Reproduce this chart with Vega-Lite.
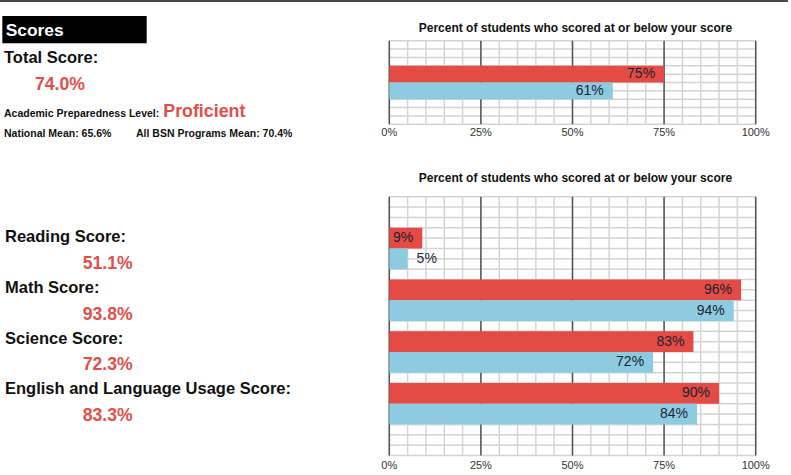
{
  "$schema": "https://vega.github.io/schema/vega-lite/v6.json",
  "width": 791,
  "height": 475,
  "padding": 0,
  "autosize": "none",
  "background": "white",
  "config": {"view": {"stroke": null}, "font": "Liberation Sans"},
  "datasets": {
    "total_bars": [
      {"section": "Total", "group": "National", "pct": 0.75},
      {"section": "Total", "group": "BSN", "pct": 0.61}
    ],
    "subject_bars": [
      {"section": "Reading", "group": "National", "pct": 0.09},
      {"section": "Reading", "group": "BSN", "pct": 0.05},
      {"section": "Math", "group": "National", "pct": 0.96},
      {"section": "Math", "group": "BSN", "pct": 0.94},
      {"section": "Science", "group": "National", "pct": 0.83},
      {"section": "Science", "group": "BSN", "pct": 0.72},
      {"section": "English", "group": "National", "pct": 0.90},
      {"section": "English", "group": "BSN", "pct": 0.84}
    ],
    "subjects": [
      {"cat": "Reading", "label": "Reading Score:", "score": 0.511},
      {"cat": "Math", "label": "Math Score:", "score": 0.938},
      {"cat": "Science", "label": "Science Score:", "score": 0.723},
      {"cat": "English", "label": "English and Language Usage Score:", "score": 0.833}
    ],
    "summary": [
      {"id": "topline", "line": "Top"},
      {"id": "header", "line": "Header", "text": "Scores"},
      {"id": "total_label", "line": "Total", "text": "Total Score:"},
      {"id": "total_value", "line": "Value", "value": 0.740},
      {"id": "level_label", "line": "Level", "text": "Academic Preparedness Level:"},
      {"id": "level_value", "line": "Level", "text": "Proficient"},
      {"id": "national", "line": "Level", "text": "National Mean: 65.6%"},
      {"id": "bsn", "line": "Level", "text": "All BSN Programs Mean: 70.4%"}
    ],
    "titles": [
      {"chart": "top", "title": "Percent of students who scored at or below your score"},
      {"chart": "bottom", "title": "Percent of students who scored at or below your score"}
    ],
    "pct_ticks": [
      {"v": 0}, {"v": 0.05}, {"v": 0.1}, {"v": 0.15}, {"v": 0.2}, {"v": 0.25}, {"v": 0.3}, {"v": 0.35}, {"v": 0.4}, {"v": 0.45},
      {"v": 0.5}, {"v": 0.55}, {"v": 0.6}, {"v": 0.65}, {"v": 0.7}, {"v": 0.75}, {"v": 0.8}, {"v": 0.85}, {"v": 0.9}, {"v": 0.95}, {"v": 1}
    ],
    "grid_rows": [
      {"k": 0}, {"k": 1}, {"k": 2}, {"k": 3}, {"k": 4}, {"k": 5}, {"k": 6}, {"k": 7}, {"k": 8}, {"k": 9}, {"k": 10}, {"k": 11}, {"k": 12},
      {"k": 13}, {"k": 14}, {"k": 15}, {"k": 16}, {"k": 17}, {"k": 18}, {"k": 19}, {"k": 20}, {"k": 21}, {"k": 22}, {"k": 23}, {"k": 24}, {"k": 25}
    ]
  },
  "layer": [
    {
      "data": {"name": "pct_ticks"},
      "mark": {"type": "rule", "color": "#d4d4d4", "strokeWidth": 1.5},
      "encoding": {
        "x": {"field": "v", "type": "quantitative", "scale": {"domain": [0, 1], "range": [389.3, 755.7], "nice": false, "zero": false}, "axis": null},
        "y": {"datum": 0, "type": "quantitative", "scale": {"domain": [0, 10], "range": [124.3, 40.7], "nice": false, "zero": false}, "axis": null},
        "y2": {"datum": 10}
      }
    },
    {
      "data": {"name": "grid_rows"},
      "transform": [{"filter": "datum.k <= 10"}],
      "mark": {"type": "rule", "color": "#d4d4d4", "strokeWidth": 1.5},
      "encoding": {
        "x": {"datum": 0, "type": "quantitative", "scale": {"domain": [0, 1], "range": [389.3, 755.7], "nice": false, "zero": false}, "axis": null},
        "x2": {"datum": 1},
        "y": {"field": "k", "type": "quantitative", "scale": {"domain": [0, 10], "range": [124.3, 40.7], "nice": false, "zero": false}, "axis": null}
      }
    },
    {
      "data": {"name": "pct_ticks"},
      "transform": [{"filter": "datum.v * 4 == round(datum.v * 4)"}],
      "mark": {"type": "rule", "color": "#555555", "strokeWidth": 1.5},
      "encoding": {
        "x": {"field": "v", "type": "quantitative", "scale": {"domain": [0, 1], "range": [389.3, 755.7], "nice": false, "zero": false}, "axis": null},
        "y": {"datum": 0, "type": "quantitative", "scale": {"domain": [0, 10], "range": [124.3, 40.7], "nice": false, "zero": false}, "axis": null},
        "y2": {"datum": 10}
      }
    },
    {
      "data": {"name": "pct_ticks"},
      "mark": {"type": "rule", "color": "#d4d4d4", "strokeWidth": 1.5},
      "encoding": {
        "x": {"field": "v", "type": "quantitative", "scale": {"domain": [0, 1], "range": [389.3, 755.7], "nice": false, "zero": false}, "axis": null},
        "y": {"datum": 0, "type": "quantitative", "scale": {"domain": [0, 25], "range": [455.5, 196.7], "nice": false, "zero": false}, "axis": null},
        "y2": {"datum": 25}
      }
    },
    {
      "data": {"name": "grid_rows"},
      "mark": {"type": "rule", "color": "#d4d4d4", "strokeWidth": 1.5},
      "encoding": {
        "x": {"datum": 0, "type": "quantitative", "scale": {"domain": [0, 1], "range": [389.3, 755.7], "nice": false, "zero": false}, "axis": null},
        "x2": {"datum": 1},
        "y": {"field": "k", "type": "quantitative", "scale": {"domain": [0, 25], "range": [455.5, 196.7], "nice": false, "zero": false}, "axis": null}
      }
    },
    {
      "data": {"name": "pct_ticks"},
      "transform": [{"filter": "datum.v * 4 == round(datum.v * 4)"}],
      "mark": {"type": "rule", "color": "#555555", "strokeWidth": 1.5},
      "encoding": {
        "x": {"field": "v", "type": "quantitative", "scale": {"domain": [0, 1], "range": [389.3, 755.7], "nice": false, "zero": false}, "axis": null},
        "y": {"datum": 0, "type": "quantitative", "scale": {"domain": [0, 25], "range": [455.5, 196.7], "nice": false, "zero": false}, "axis": null},
        "y2": {"datum": 25}
      }
    },
    {
      "data": {"name": "total_bars"},
      "mark": {"type": "bar"},
      "encoding": {
        "x": {"field": "pct", "type": "quantitative", "scale": {"domain": [0, 1], "range": [389.3, 755.7], "nice": false}, "axis": null},
        "y": {"field": "section", "type": "nominal", "scale": {"domain": ["Total"], "range": [40.7, 124.3], "paddingInner": 0, "paddingOuter": 0.75}, "axis": null},
        "yOffset": {"field": "group", "type": "nominal", "scale": {"domain": ["National", "BSN"], "paddingInner": 0, "paddingOuter": 0}},
        "color": {"field": "group", "type": "nominal", "scale": {"domain": ["National", "BSN"], "range": ["#e34b44", "#8dcbe0"]}, "legend": null}
      }
    },
    {
      "data": {"name": "total_bars"},
      "transform": [{"filter": "datum.group === 'National'"}],
      "mark": {"type": "text", "align": "right", "baseline": "middle", "dx": -9, "fontSize": 14, "color": "#1c2333"},
      "encoding": {
        "x": {"field": "pct", "type": "quantitative", "scale": {"domain": [0, 1], "range": [389.3, 755.7], "nice": false}, "axis": null},
        "y": {"field": "section", "type": "nominal", "bandPosition": 0.25, "scale": {"type": "band", "domain": ["Total"], "range": [40.7, 124.3], "paddingInner": 0, "paddingOuter": 0.75}, "axis": null},
        "text": {"field": "pct", "type": "quantitative", "format": ".0%"}
      }
    },
    {
      "data": {"name": "total_bars"},
      "transform": [{"filter": "datum.group === 'BSN'"}],
      "mark": {"type": "text", "align": "right", "baseline": "middle", "dx": -9, "fontSize": 14, "color": "#1c2333"},
      "encoding": {
        "x": {"field": "pct", "type": "quantitative", "scale": {"domain": [0, 1], "range": [389.3, 755.7], "nice": false}, "axis": null},
        "y": {"field": "section", "type": "nominal", "bandPosition": 0.75, "scale": {"type": "band", "domain": ["Total"], "range": [40.7, 124.3], "paddingInner": 0, "paddingOuter": 0.75}, "axis": null},
        "text": {"field": "pct", "type": "quantitative", "format": ".0%"}
      }
    },
    {
      "data": {"name": "subject_bars"},
      "mark": {"type": "bar"},
      "encoding": {
        "x": {"field": "pct", "type": "quantitative", "scale": {"domain": [0, 1], "range": [389.3, 755.7], "nice": false}, "axis": null},
        "y": {"field": "section", "type": "nominal", "scale": {"domain": ["Reading", "Math", "Science", "English"], "range": [196.7, 455.5], "paddingInner": 0.2, "paddingOuter": 0.6}, "axis": null},
        "yOffset": {"field": "group", "type": "nominal", "scale": {"domain": ["National", "BSN"], "paddingInner": 0, "paddingOuter": 0}},
        "color": {"field": "group", "type": "nominal", "scale": {"domain": ["National", "BSN"], "range": ["#e34b44", "#8dcbe0"]}, "legend": null}
      }
    },
    {
      "data": {"name": "subject_bars"},
      "transform": [{"filter": "datum.group === 'National' && datum.pct >= 0.08"}],
      "mark": {"type": "text", "align": "right", "baseline": "middle", "dx": -9, "fontSize": 14, "color": "#1c2333"},
      "encoding": {
        "x": {"field": "pct", "type": "quantitative", "scale": {"domain": [0, 1], "range": [389.3, 755.7], "nice": false}, "axis": null},
        "y": {"field": "section", "type": "nominal", "bandPosition": 0.25, "scale": {"type": "band", "domain": ["Reading", "Math", "Science", "English"], "range": [196.7, 455.5], "paddingInner": 0.2, "paddingOuter": 0.6}, "axis": null},
        "text": {"field": "pct", "type": "quantitative", "format": ".0%"}
      }
    },
    {
      "data": {"name": "subject_bars"},
      "transform": [{"filter": "datum.group === 'BSN' && datum.pct >= 0.08"}],
      "mark": {"type": "text", "align": "right", "baseline": "middle", "dx": -9, "fontSize": 14, "color": "#1c2333"},
      "encoding": {
        "x": {"field": "pct", "type": "quantitative", "scale": {"domain": [0, 1], "range": [389.3, 755.7], "nice": false}, "axis": null},
        "y": {"field": "section", "type": "nominal", "bandPosition": 0.75, "scale": {"type": "band", "domain": ["Reading", "Math", "Science", "English"], "range": [196.7, 455.5], "paddingInner": 0.2, "paddingOuter": 0.6}, "axis": null},
        "text": {"field": "pct", "type": "quantitative", "format": ".0%"}
      }
    },
    {
      "data": {"name": "subject_bars"},
      "transform": [{"filter": "datum.group === 'BSN' && datum.pct < 0.08"}],
      "mark": {"type": "text", "align": "left", "baseline": "middle", "dx": 9, "fontSize": 14, "color": "#1c2333"},
      "encoding": {
        "x": {"field": "pct", "type": "quantitative", "scale": {"domain": [0, 1], "range": [389.3, 755.7], "nice": false}, "axis": null},
        "y": {"field": "section", "type": "nominal", "bandPosition": 0.75, "scale": {"type": "band", "domain": ["Reading", "Math", "Science", "English"], "range": [196.7, 455.5], "paddingInner": 0.2, "paddingOuter": 0.6}, "axis": null},
        "text": {"field": "pct", "type": "quantitative", "format": ".0%"}
      }
    },
    {
      "data": {"name": "pct_ticks"},
      "transform": [{"filter": "datum.v * 4 == round(datum.v * 4)"}],
      "mark": {"type": "text", "align": "center", "baseline": "top", "dy": 3, "fontSize": 11, "color": "#333333"},
      "encoding": {
        "x": {"field": "v", "type": "quantitative", "scale": {"domain": [0, 1], "range": [389.3, 755.7], "nice": false, "zero": false}, "axis": null},
        "y": {"datum": 0, "type": "quantitative", "scale": {"domain": [0, 10], "range": [124.3, 40.7], "nice": false, "zero": false}, "axis": null},
        "text": {"field": "v", "type": "quantitative", "format": ".0%"}
      }
    },
    {
      "data": {"name": "pct_ticks"},
      "transform": [{"filter": "datum.v * 4 == round(datum.v * 4)"}],
      "mark": {"type": "text", "align": "center", "baseline": "top", "dy": 4.5, "fontSize": 11, "color": "#333333"},
      "encoding": {
        "x": {"field": "v", "type": "quantitative", "scale": {"domain": [0, 1], "range": [389.3, 755.7], "nice": false, "zero": false}, "axis": null},
        "y": {"datum": 0, "type": "quantitative", "scale": {"domain": [0, 25], "range": [455.5, 196.7], "nice": false, "zero": false}, "axis": null},
        "text": {"field": "v", "type": "quantitative", "format": ".0%"}
      }
    },
    {
      "data": {"name": "titles"},
      "transform": [{"filter": "datum.chart === 'top'"}],
      "mark": {"type": "text", "align": "center", "baseline": "alphabetic", "dy": -8.4, "fontSize": 12, "fontWeight": "bold", "color": "#111111"},
      "encoding": {
        "x": {"datum": 0.508, "type": "quantitative", "scale": {"domain": [0, 1], "range": [389.3, 755.7], "nice": false, "zero": false}, "axis": null},
        "y": {"datum": 10, "type": "quantitative", "scale": {"domain": [0, 10], "range": [124.3, 40.7], "nice": false, "zero": false}, "axis": null},
        "text": {"field": "title"}
      }
    },
    {
      "data": {"name": "titles"},
      "transform": [{"filter": "datum.chart === 'bottom'"}],
      "mark": {"type": "text", "align": "center", "baseline": "alphabetic", "dy": -14.4, "fontSize": 12, "fontWeight": "bold", "color": "#111111"},
      "encoding": {
        "x": {"datum": 0.508, "type": "quantitative", "scale": {"domain": [0, 1], "range": [389.3, 755.7], "nice": false, "zero": false}, "axis": null},
        "y": {"datum": 25, "type": "quantitative", "scale": {"domain": [0, 25], "range": [455.5, 196.7], "nice": false, "zero": false}, "axis": null},
        "text": {"field": "title"}
      }
    },
    {
      "data": {"name": "summary"},
      "transform": [{"filter": "datum.id === 'topline'"}],
      "mark": {"type": "rect", "color": "#4a4a4a"},
      "encoding": {
        "x": {"datum": 0, "type": "quantitative", "scale": {"domain": [0, 100], "range": [0, 389.3], "nice": false, "zero": false}, "axis": null},
        "x2": {"datum": 202.4},
        "y": {"field": "line", "type": "nominal", "scale": {"type": "band", "domain": ["Top"], "range": [0, 2], "paddingInner": 0, "paddingOuter": 0}, "axis": null}
      }
    },
    {
      "data": {"name": "summary"},
      "transform": [{"filter": "datum.id === 'header'"}],
      "mark": {"type": "rect", "color": "#000000"},
      "encoding": {
        "x": {"datum": 0.6, "type": "quantitative", "scale": {"domain": [0, 100], "range": [0, 389.3], "nice": false, "zero": false}, "axis": null},
        "x2": {"datum": 37.68},
        "y": {"field": "line", "type": "nominal", "scale": {"type": "band", "domain": ["Header"], "range": [16, 43.3], "paddingInner": 0, "paddingOuter": 0}, "axis": null}
      }
    },
    {
      "data": {"name": "summary"},
      "transform": [{"filter": "datum.id === 'header'"}],
      "mark": {"type": "text", "align": "left", "baseline": "alphabetic", "fontSize": 17.4, "fontWeight": "bold", "color": "#ffffff"},
      "encoding": {
        "x": {"datum": 1.46, "type": "quantitative", "scale": {"domain": [0, 100], "range": [0, 389.3], "nice": false, "zero": false}, "axis": null},
        "y": {"field": "line", "type": "nominal", "scale": {"type": "point", "domain": ["Header", "Total", "Value", "Level"], "range": [36, 117.3], "padding": 0}, "axis": null},
        "text": {"field": "text"}
      }
    },
    {
      "data": {"name": "summary"},
      "transform": [{"filter": "datum.id === 'total_label'"}],
      "mark": {"type": "text", "align": "left", "baseline": "alphabetic", "fontSize": 16.5, "fontWeight": "bold", "color": "#111111"},
      "encoding": {
        "x": {"datum": 1.03, "type": "quantitative", "scale": {"domain": [0, 100], "range": [0, 389.3], "nice": false, "zero": false}, "axis": null},
        "y": {"field": "line", "type": "nominal", "scale": {"type": "point", "domain": ["Header", "Total", "Value", "Level"], "range": [36, 117.3], "padding": 0}, "axis": null},
        "text": {"field": "text"}
      }
    },
    {
      "data": {"name": "summary"},
      "transform": [{"filter": "datum.id === 'total_value'"}],
      "mark": {"type": "text", "align": "left", "baseline": "alphabetic", "fontSize": 17.6, "fontWeight": "bold", "color": "#e0504a"},
      "encoding": {
        "x": {"datum": 8.99, "type": "quantitative", "scale": {"domain": [0, 100], "range": [0, 389.3], "nice": false, "zero": false}, "axis": null},
        "y": {"field": "line", "type": "nominal", "scale": {"type": "point", "domain": ["Header", "Total", "Value", "Level"], "range": [36, 117.3], "padding": 0}, "axis": null},
        "text": {"field": "value", "type": "quantitative", "format": ".1%"}
      }
    },
    {
      "data": {"name": "summary"},
      "transform": [{"filter": "datum.id === 'level_label'"}],
      "mark": {"type": "text", "align": "left", "baseline": "alphabetic", "fontSize": 10.5, "fontWeight": "bold", "color": "#111111"},
      "encoding": {
        "x": {"datum": 1.03, "type": "quantitative", "scale": {"domain": [0, 100], "range": [0, 389.3], "nice": false, "zero": false}, "axis": null},
        "y": {"field": "line", "type": "nominal", "scale": {"type": "point", "domain": ["Header", "Total", "Value", "Level"], "range": [36, 117.3], "padding": 0}, "axis": null},
        "text": {"field": "text"}
      }
    },
    {
      "data": {"name": "summary"},
      "transform": [{"filter": "datum.id === 'level_value'"}],
      "mark": {"type": "text", "align": "left", "baseline": "alphabetic", "fontSize": 17.8, "fontWeight": "bold", "color": "#e0504a"},
      "encoding": {
        "x": {"datum": 41.95, "type": "quantitative", "scale": {"domain": [0, 100], "range": [0, 389.3], "nice": false, "zero": false}, "axis": null},
        "y": {"field": "line", "type": "nominal", "scale": {"type": "point", "domain": ["Header", "Total", "Value", "Level"], "range": [36, 117.3], "padding": 0}, "axis": null},
        "text": {"field": "text"}
      }
    },
    {
      "data": {"name": "summary"},
      "transform": [{"filter": "datum.id === 'national'"}],
      "mark": {"type": "text", "align": "left", "baseline": "alphabetic", "fontSize": 10.5, "fontWeight": "bold", "color": "#111111", "dy": 19.4},
      "encoding": {
        "x": {"datum": 1.03, "type": "quantitative", "scale": {"domain": [0, 100], "range": [0, 389.3], "nice": false, "zero": false}, "axis": null},
        "y": {"field": "line", "type": "nominal", "scale": {"type": "point", "domain": ["Header", "Total", "Value", "Level"], "range": [36, 117.3], "padding": 0}, "axis": null},
        "text": {"field": "text"}
      }
    },
    {
      "data": {"name": "summary"},
      "transform": [{"filter": "datum.id === 'bsn'"}],
      "mark": {"type": "text", "align": "left", "baseline": "alphabetic", "fontSize": 10.5, "fontWeight": "bold", "color": "#111111", "dy": 19.4},
      "encoding": {
        "x": {"datum": 34.93, "type": "quantitative", "scale": {"domain": [0, 100], "range": [0, 389.3], "nice": false, "zero": false}, "axis": null},
        "y": {"field": "line", "type": "nominal", "scale": {"type": "point", "domain": ["Header", "Total", "Value", "Level"], "range": [36, 117.3], "padding": 0}, "axis": null},
        "text": {"field": "text"}
      }
    },
    {
      "data": {"name": "subjects"},
      "mark": {"type": "text", "align": "left", "baseline": "alphabetic", "fontSize": 16.5, "fontWeight": "bold", "color": "#111111"},
      "encoding": {
        "x": {"datum": 1.28, "type": "quantitative", "scale": {"domain": [0, 100], "range": [0, 389.3], "nice": false, "zero": false}, "axis": null},
        "y": {"field": "cat", "type": "nominal", "bandPosition": 0.344, "scale": {"type": "band", "domain": ["Reading", "Math", "Science", "English"], "range": [196.7, 455.6], "paddingInner": 0, "paddingOuter": 0.557}, "axis": null},
        "text": {"field": "label"}
      }
    },
    {
      "data": {"name": "subjects"},
      "mark": {"type": "text", "align": "left", "baseline": "alphabetic", "fontSize": 17.6, "fontWeight": "bold", "color": "#e0504a"},
      "encoding": {
        "x": {"datum": 21.24, "type": "quantitative", "scale": {"domain": [0, 100], "range": [0, 389.3], "nice": false, "zero": false}, "axis": null},
        "y": {"field": "cat", "type": "nominal", "bandPosition": 0.872, "scale": {"type": "band", "domain": ["Reading", "Math", "Science", "English"], "range": [196.7, 455.6], "paddingInner": 0, "paddingOuter": 0.557}, "axis": null},
        "text": {"field": "score", "type": "quantitative", "format": ".1%"}
      }
    }
  ],
  "resolve": {"scale": {"x": "independent", "y": "independent", "yOffset": "independent", "color": "independent"}}
}
